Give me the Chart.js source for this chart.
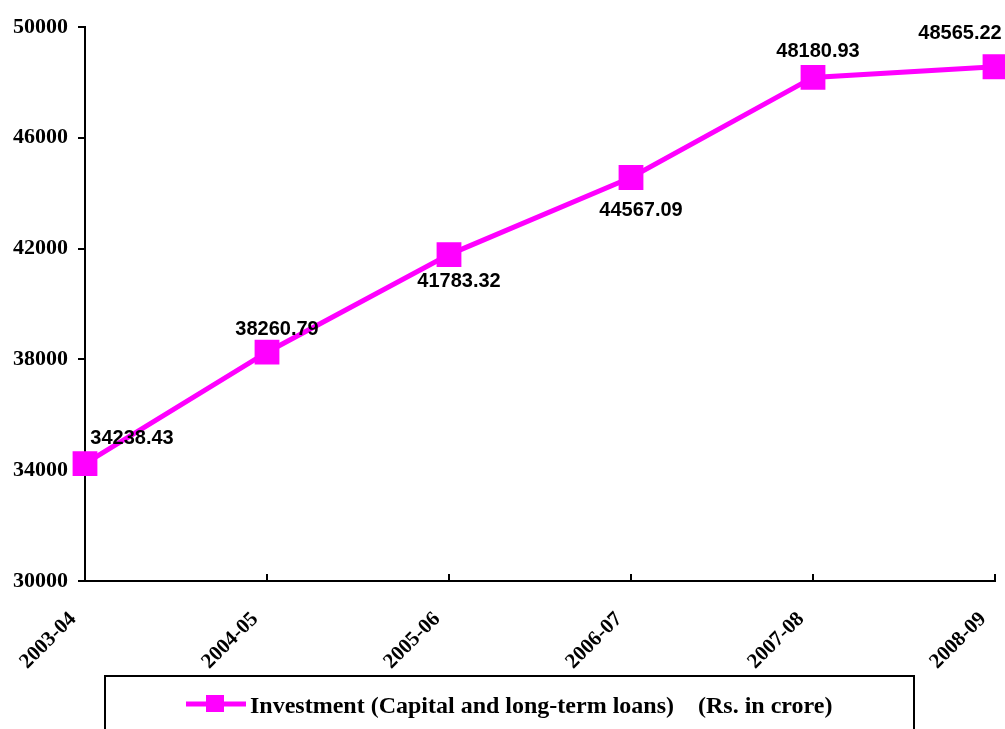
<!DOCTYPE html>
<html>
<head>
<meta charset="utf-8">
<script src="https://cdn.jsdelivr.net/npm/chart.js@4"></script>
<style>
    body { margin: 0; background: #ffffff; }
    #wrap { width: 1005px; height: 729px; }
</style>
</head>
<body>
<div id="wrap"><canvas id="investChart" width="1005" height="729"></canvas></div>
<script>
const years = ['2003-04', '2004-05', '2005-06', '2006-07', '2007-08', '2008-09'];
const investment = [34238.43, 38260.79, 41783.32, 44567.09, 48180.93, 48565.22];
const valueLabels = ['34238.43', '38260.79', '41783.32', '44567.09', '48180.93', '48565.22'];
const seriesName = 'Investment (Capital and long-term loans)    (Rs. in crore)';

// where each value label sits relative to its point
const labelOffsets = [[47, -25], [10, -23], [10, 27], [10, 33], [5, -26], [-35, -33]];

const MAGENTA = '#ff00ff';
const serif = '"Liberation Serif", "Times New Roman", serif';
const sans = '"Liberation Sans", Arial, sans-serif';

const decorations = {
    id: 'decorations',
    afterDraw(chart) {
        const ctx = chart.ctx;
        const x = chart.scales.x;
        const area = chart.chartArea;

        // short tick marks pointing up into the plot
        ctx.save();
        ctx.strokeStyle = '#000';
        ctx.lineWidth = 2;
        x.ticks.forEach((t, i) => {
            const px = x.getPixelForTick(i);
            ctx.beginPath();
            ctx.moveTo(px, area.bottom);
            ctx.lineTo(px, area.bottom - 7);
            ctx.stroke();
        });

        // value labels
        const meta = chart.getDatasetMeta(0);
        ctx.fillStyle = '#000';
        ctx.font = 'bold 20px ' + sans;
        ctx.textAlign = 'center';
        ctx.textBaseline = 'middle';
        meta.data.forEach((pt, i) => {
            ctx.fillText(valueLabels[i], pt.x + labelOffsets[i][0], pt.y + labelOffsets[i][1]);
        });

        // legend box
        ctx.lineWidth = 2;
        ctx.strokeRect(105, 676, 809, 70);
        ctx.strokeStyle = MAGENTA;
        ctx.lineWidth = 5;
        ctx.beginPath();
        ctx.moveTo(186, 704);
        ctx.lineTo(246, 704);
        ctx.stroke();
        ctx.fillStyle = MAGENTA;
        ctx.fillRect(206, 695, 18, 17);
        ctx.fillStyle = '#000';
        ctx.font = 'bold 24px ' + serif;
        ctx.textAlign = 'left';
        ctx.textBaseline = 'alphabetic';
        ctx.fillText(seriesName, 250, 713);
        ctx.restore();
    }
};

new Chart(document.getElementById('investChart'), {
    type: 'line',
    data: {
        labels: years,
        datasets: [{
            label: seriesName,
            data: investment,
            borderColor: MAGENTA,
            backgroundColor: MAGENTA,
            borderWidth: 5,
            pointStyle: 'rect',
            pointRadius: 14,
            pointHoverRadius: 14,
            tension: 0,
            clip: false
        }]
    },
    options: {
        responsive: false,
        animation: false,
        layout: { autoPadding: false, padding: { top: 27, right: 10, left: 0, bottom: 0 } },
        plugins: {
            legend: { display: false },
            tooltip: { enabled: false }
        },
        scales: {
            x: {
                offset: false,
                grid: { display: false },
                border: { color: '#000', width: 2 },
                ticks: {
                    color: '#000',
                    autoSkip: false,
                    maxRotation: 45,
                    minRotation: 45,
                    padding: 18,
                    labelOffset: -12,
                    font: { family: serif, size: 21, weight: 'bold' }
                },
                afterFit(scale) {
                    scale.height = 148;
                    scale.paddingLeft = 0;
                    scale.paddingRight = 0;
                }
            },
            y: {
                min: 30000,
                max: 50000,
                grid: { drawOnChartArea: false, color: '#000', lineWidth: 2, tickLength: 7 },
                border: { color: '#000', width: 2 },
                ticks: {
                    stepSize: 4000,
                    color: '#000',
                    padding: 10,
                    callback: v => String(v),
                    font: { family: serif, size: 22, weight: 'bold' }
                },
                afterFit(scale) {
                    scale.width = 85;
                    scale.paddingTop = 0;
                    scale.paddingBottom = 0;
                }
            }
        }
    },
    plugins: [decorations]
});
</script>
</body>
</html>
